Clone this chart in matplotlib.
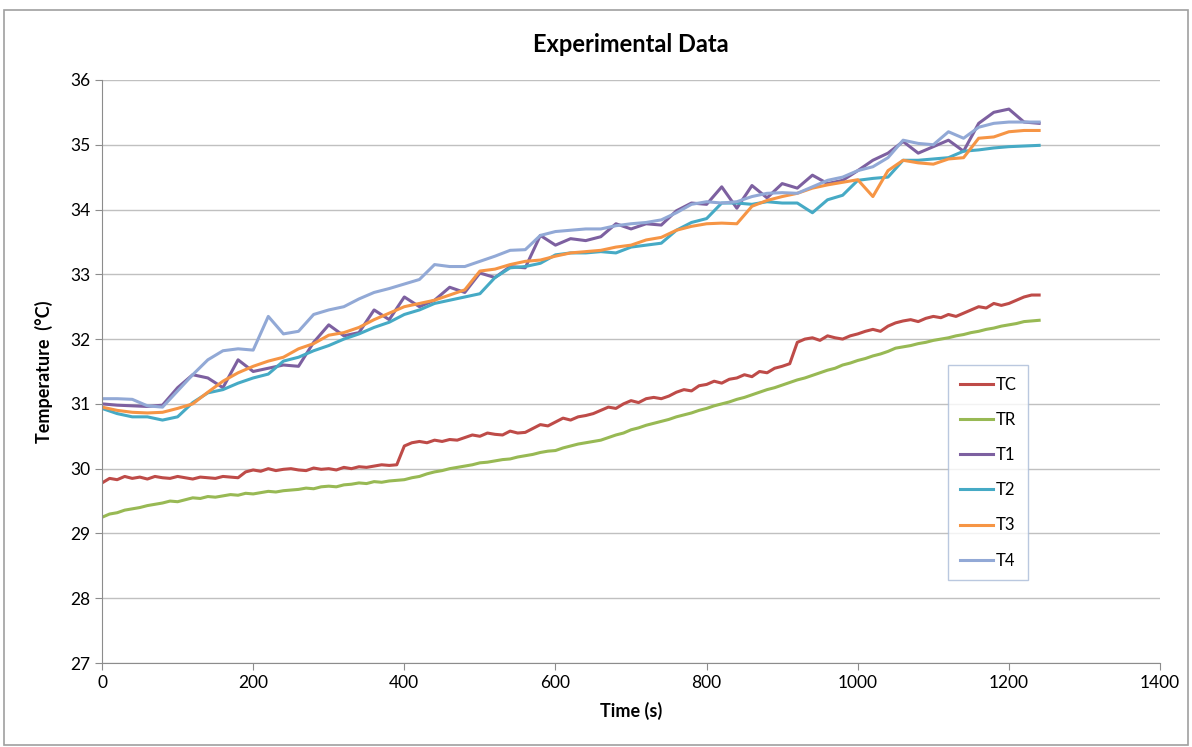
import numpy as np
import matplotlib.pyplot as plt
from matplotlib.patches import Rectangle

# time axes (s)
t_fine = np.arange(0, 1241, 10)
t_coarse = np.arange(0, 1241, 20)

TC = [29.78, 29.85, 29.83, 29.88, 29.85, 29.87, 29.84, 29.88, 29.86, 29.85,
      29.88, 29.86, 29.84, 29.87, 29.86, 29.85, 29.88, 29.87, 29.86,
      29.95, 29.98, 29.96, 30.0, 29.97, 29.99, 30.0, 29.98, 29.97, 30.01,
      29.99, 30.0, 29.98, 30.02, 30.0, 30.03, 30.02, 30.04, 30.06, 30.05, 30.06,
      30.35, 30.40, 30.42, 30.40, 30.44, 30.42, 30.45, 30.44, 30.48, 30.52,
      30.50, 30.55, 30.53, 30.52, 30.58, 30.55, 30.56, 30.62, 30.68, 30.66,
      30.72, 30.78, 30.75, 30.80, 30.82, 30.85, 30.90, 30.95, 30.93, 31.00,
      31.05, 31.02, 31.08, 31.10, 31.08, 31.12, 31.18, 31.22, 31.20, 31.28,
      31.30, 31.35, 31.32, 31.38, 31.40, 31.45, 31.42, 31.50, 31.48, 31.55,
      31.58, 31.62,
      31.95, 32.0, 32.02, 31.98, 32.05, 32.02, 32.0, 32.05, 32.08, 32.12,
      32.15, 32.12, 32.2, 32.25, 32.28, 32.3, 32.27, 32.32, 32.35, 32.33,
      32.38, 32.35, 32.4, 32.45, 32.5, 32.48, 32.55, 32.52, 32.55, 32.6,
      32.65, 32.68, 32.68]

TR = [29.25, 29.3, 29.32, 29.36, 29.38, 29.4, 29.43, 29.45, 29.47, 29.5, 29.49, 29.52, 29.55,
      29.54, 29.57, 29.56, 29.58, 29.6, 29.59, 29.62, 29.61, 29.63, 29.65, 29.64, 29.66, 29.67,
      29.68, 29.7, 29.69, 29.72, 29.73, 29.72, 29.75, 29.76, 29.78, 29.77, 29.8, 29.79, 29.81, 29.82,
      29.83, 29.86, 29.88, 29.92, 29.95, 29.97, 30.0, 30.02, 30.04, 30.06, 30.09, 30.1, 30.12,
      30.14, 30.15, 30.18, 30.2, 30.22, 30.25, 30.27, 30.28, 30.32, 30.35, 30.38, 30.4, 30.42, 30.44,
      30.48, 30.52, 30.55, 30.6, 30.63, 30.67, 30.7, 30.73, 30.76, 30.8, 30.83, 30.86, 30.9,
      30.93, 30.97, 31.0, 31.03, 31.07, 31.1, 31.14, 31.18, 31.22, 31.25, 31.29, 31.33, 31.37,
      31.4, 31.44, 31.48, 31.52, 31.55, 31.6, 31.63, 31.67, 31.7, 31.74, 31.77, 31.81, 31.86,
      31.88, 31.9, 31.93, 31.95, 31.98, 32.0, 32.02, 32.05, 32.07, 32.1, 32.12, 32.15, 32.17,
      32.2, 32.22, 32.24, 32.27, 32.28, 32.29]

T1 = [31.0, 30.98, 30.97, 30.96, 30.98, 31.25, 31.45, 31.4, 31.25, 31.68,
      31.5, 31.55, 31.6, 31.58, 31.95, 32.22, 32.05, 32.1, 32.45, 32.3,
      32.65, 32.5, 32.6, 32.8, 32.72, 33.02, 32.95, 33.12, 33.1, 33.6,
      33.45, 33.55, 33.52, 33.58, 33.78, 33.7, 33.78, 33.76, 33.98, 34.1,
      34.08, 34.35, 34.02, 34.37, 34.18, 34.4, 34.33, 34.53, 34.4, 34.45,
      34.6, 34.76, 34.87, 35.05, 34.87, 34.97, 35.07, 34.9, 35.33, 35.5,
      35.55, 35.35, 35.33]

T2 = [30.93, 30.85, 30.8, 30.8, 30.75, 30.8, 31.02, 31.17, 31.22, 31.32,
      31.4, 31.46, 31.66, 31.72, 31.82, 31.9, 32.0, 32.08, 32.18, 32.26,
      32.38, 32.45, 32.55, 32.6, 32.65, 32.7, 32.95, 33.1, 33.12, 33.17,
      33.3, 33.33, 33.33, 33.35, 33.33, 33.42, 33.45, 33.48, 33.68, 33.8,
      33.86, 34.1, 34.1, 34.08, 34.12, 34.1, 34.1, 33.95, 34.15, 34.22,
      34.45, 34.48, 34.5, 34.76, 34.76, 34.78, 34.8, 34.9, 34.92, 34.95,
      34.97, 34.98, 34.99]

T3 = [30.95, 30.9, 30.87, 30.86, 30.87, 30.93, 31.0, 31.18, 31.35, 31.48,
      31.58, 31.66, 31.72, 31.85, 31.93, 32.06, 32.1, 32.18, 32.3, 32.4,
      32.5, 32.55, 32.6, 32.68, 32.76, 33.05, 33.08, 33.15, 33.2, 33.22,
      33.28, 33.33, 33.35, 33.37, 33.42, 33.45, 33.53, 33.57, 33.68, 33.74,
      33.78, 33.79, 33.78, 34.05, 34.14, 34.2, 34.25, 34.33, 34.38, 34.42,
      34.46, 34.2, 34.6, 34.76, 34.72, 34.7, 34.78, 34.8, 35.1, 35.12,
      35.2, 35.22, 35.22]

T4 = [31.08, 31.08, 31.07, 30.97, 30.95, 31.2, 31.45, 31.68, 31.82, 31.85,
      31.83, 32.35, 32.08, 32.12, 32.38, 32.45, 32.5, 32.62, 32.72, 32.78,
      32.85, 32.92, 33.15, 33.12, 33.12, 33.2, 33.28, 33.37, 33.38, 33.6,
      33.66, 33.68, 33.7, 33.7, 33.75, 33.78, 33.8, 33.84, 33.95, 34.08,
      34.12, 34.1, 34.12, 34.2, 34.25, 34.26, 34.25, 34.35, 34.45, 34.5,
      34.6, 34.66, 34.8, 35.07, 35.02, 35.0, 35.2, 35.1, 35.27, 35.33,
      35.35, 35.35, 35.35]

labels = ['TC', 'TR', 'T1', 'T2', 'T3', 'T4']
colors = ['#BE4B48', '#98B954', '#7D60A0', '#46AAC5', '#F69545', '#92A9D6']

plt.rcParams['font.family'] = ['Lato', 'DejaVu Sans']

fig = plt.figure(figsize=(11.92, 7.47), dpi=100)
ax = fig.add_axes([0.0856, 0.1124, 0.8876, 0.7806])

# outer chart border
fig.patches.append(Rectangle((0.0034, 0.003), 0.9932, 0.9837, transform=fig.transFigure,
                             fill=False, edgecolor='#A0A0A0', linewidth=1.2))

series = [(t_fine, TC), (t_fine, TR), (t_coarse, T1), (t_coarse, T2), (t_coarse, T3), (t_coarse, T4)]
for (tt, yy), lab, c in zip(series, labels, colors):
    ax.plot(tt, yy, color=c, lw=2.2, label=lab)

ax.set_xlim(0, 1400)
ax.set_ylim(27, 36)
ax.set_xticks(np.arange(0, 1401, 200))
ax.set_yticks(np.arange(27, 37, 1))
ax.yaxis.grid(True, color='#C0C0C0', lw=1.0)
ax.set_axisbelow(True)
for s in ['top', 'right']:
    ax.spines[s].set_visible(False)
for s in ['left', 'bottom']:
    ax.spines[s].set_color('#8C8C8C')
ax.tick_params(axis='both', colors='#8C8C8C', labelcolor='black', labelsize=12.5, length=5)

ax.set_title('Experimental Data', fontsize=17, fontweight='bold', pad=20)
ax.set_xlabel('Time (s)', fontsize=13, fontweight='bold', labelpad=8)
ax.set_ylabel('Temperature  (°C)', fontsize=13, fontweight='bold', labelpad=12)

leg = ax.legend(loc='upper left', bbox_to_anchor=(0.80, 0.511), frameon=True, fancybox=False,
                fontsize=12, labelspacing=1.15, handlelength=2.0, handletextpad=0.15,
                borderpad=0.7, borderaxespad=0)
leg.get_frame().set_edgecolor('#A9BBD8')
leg.get_frame().set_linewidth(1.0)

fig.savefig('out.png', dpi=100)
